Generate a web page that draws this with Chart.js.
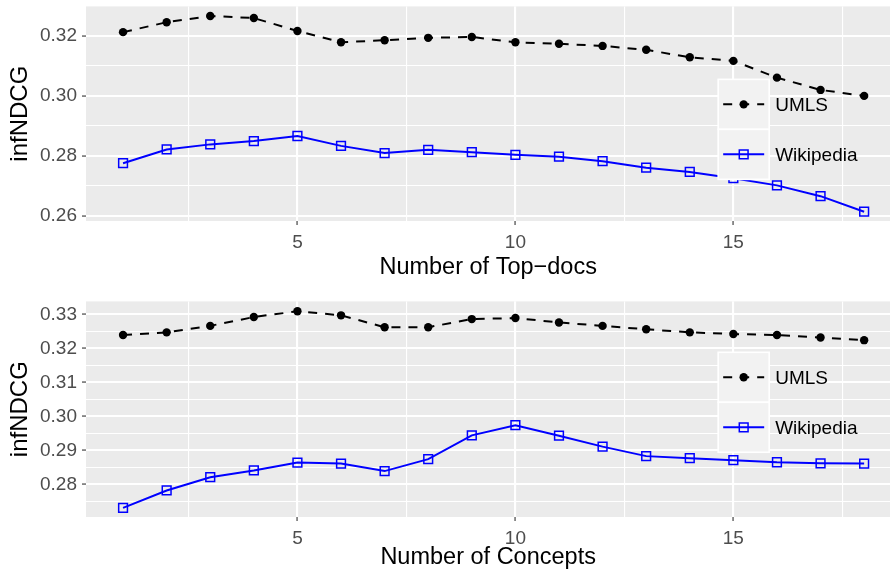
<!DOCTYPE html>
<html>
<head>
<meta charset="utf-8">
<script src="https://cdn.jsdelivr.net/npm/chart.js@4/dist/chart.umd.min.js"></script>
<style>
  html, body { margin: 0; padding: 0; background: #fff; overflow: hidden; }
  #wrap { position: relative; width: 890px; height: 573px; overflow: hidden; }
  .pane { position: absolute; left: 0; width: 898px; }
</style>
</head>
<body>
<div id="wrap">
  <div class="pane" style="top:-10px;height:295px"><canvas id="topChart"></canvas></div>
  <div class="pane" style="top:285px;height:288px"><canvas id="bottomChart"></canvas></div>
</div>
<script>
// valeurs
const xValues = [1, 2, 3, 4, 5, 6, 7, 8, 9, 10, 11, 12, 13, 14, 15, 16, 17, 18];

const topdocsUmls = [0.3213, 0.3246, 0.3267, 0.3260, 0.3217, 0.3179, 0.3186, 0.3194, 0.3197,
                     0.3179, 0.3174, 0.3167, 0.3154, 0.3129, 0.3117, 0.3061, 0.3020, 0.3000];
const topdocsWiki = [0.2775, 0.2821, 0.2838, 0.2849, 0.2866, 0.2833, 0.2809, 0.2820, 0.2812,
                     0.2803, 0.2797, 0.2782, 0.2760, 0.2746, 0.2725, 0.2701, 0.2665, 0.2613];

const conceptsUmls = [0.3239, 0.3247, 0.3266, 0.3292, 0.3309, 0.3297, 0.3262, 0.3262, 0.3286,
                      0.3289, 0.3276, 0.3266, 0.3256, 0.3247, 0.3242, 0.3239, 0.3232, 0.3224];
const conceptsWiki = [0.2731, 0.2782, 0.2821, 0.2841, 0.2864, 0.2861, 0.2839, 0.2874, 0.2944,
                      0.2974, 0.2943, 0.2911, 0.2883, 0.2877, 0.2871, 0.2865, 0.2862, 0.2861];

const seriesNames = ['UMLS', 'Wikipedia'];

// ticks : majeurs (avec étiquette) et mineurs (grille fine seulement)
const xMajorTicks = [5, 10, 15];
const xMinorTicks = [2.5, 7.5, 12.5, 17.5];
const topdocsYMajor = [0.26, 0.28, 0.30, 0.32];
const topdocsYMinor = [0.27, 0.29, 0.31];
const conceptsYMajor = [0.28, 0.29, 0.30, 0.31, 0.32, 0.33];
const conceptsYMinor = [0.275, 0.285, 0.295, 0.305, 0.315, 0.325];

Chart.defaults.font.family = '"Liberation Sans", Arial, Helvetica, sans-serif';
Chart.defaults.animation = false;

const isMajor = (list, v) => list.some(m => Math.abs(m - v) < 1e-9);

// fond gris du panneau (style ggplot)
const panelBackground = {
    id: 'panelBackground',
    beforeDraw(chart) {
        const a = chart.chartArea, ctx = chart.ctx;
        ctx.save();
        ctx.fillStyle = '#EBEBEB';
        ctx.fillRect(a.left, a.top, a.right - a.left, a.bottom - a.top);
        ctx.restore();
    }
};

// légende dessinée dans le panneau
const insideLegend = {
    id: 'insideLegend',
    afterDraw(chart, args, opts) {
        const a = chart.chartArea, ctx = chart.ctx;
        const left = a.left + opts.x * (a.right - a.left);
        const top = a.top + opts.y * (a.bottom - a.top);
        const kw = 51, kh = 50;
        ctx.save();
        chart.data.datasets.forEach((ds, i) => {
            const ky = top + i * kh;
            ctx.fillStyle = '#F2F2F2';
            ctx.fillRect(left, ky, kw, kh);
            ctx.strokeStyle = '#FFFFFF';
            ctx.lineWidth = 1.6;
            ctx.strokeRect(left, ky, kw, kh);
            const cy = ky + kh / 2;
            ctx.beginPath();
            ctx.setLineDash(ds.borderDash || []);
            ctx.strokeStyle = ds.borderColor;
            ctx.lineWidth = ds.borderWidth;
            ctx.moveTo(left + 5, cy);
            ctx.lineTo(left + kw - 5, cy);
            ctx.stroke();
            ctx.setLineDash([]);
            ctx.fillStyle = ds.pointBackgroundColor;
            ctx.strokeStyle = ds.pointBorderColor;
            ctx.lineWidth = ds.pointBorderWidth;
            ctx.beginPath();
            if (ds.pointStyle === 'circle') {
                ctx.arc(left + kw / 2, cy, ds.pointRadius, 0, Math.PI * 2);
                ctx.fill();
            } else {
                const s = Math.SQRT1_2 * ds.pointRadius;
                ctx.rect(left + kw / 2 - s, cy - s, 2 * s, 2 * s);
                ctx.stroke();
            }
            ctx.fillStyle = '#000000';
            ctx.font = '19px "Liberation Sans", Arial, sans-serif';
            ctx.textAlign = 'left';
            ctx.textBaseline = 'middle';
            ctx.fillText(ds.label, left + kw + 6, cy + 1);
        });
        ctx.restore();
    }
};

function toPoints(values) {
    return xValues.map((x, i) => ({ x: x, y: values[i] }));
}

function makeChart(canvasId, umls, wiki, cfg) {
    const ctx = document.getElementById(canvasId).getContext('2d');
    return new Chart(ctx, {
        type: 'line',
        data: {
            datasets: [{
                label: seriesNames[0],
                data: toPoints(umls),
                borderColor: '#000000',
                borderWidth: 2,
                borderDash: [9, 8],
                pointStyle: 'circle',
                pointRadius: 4.2,
                pointBorderWidth: 0,
                pointBackgroundColor: '#000000',
                pointBorderColor: '#000000',
                tension: 0
            }, {
                label: seriesNames[1],
                data: toPoints(wiki),
                borderColor: '#0000FF',
                borderWidth: 2,
                pointStyle: 'rect',
                pointRadius: 6.2,
                pointBorderWidth: 1.5,
                pointBackgroundColor: 'rgba(0,0,0,0)',
                pointBorderColor: '#0000FF',
                tension: 0
            }]
        },
        options: {
            responsive: true,
            maintainAspectRatio: false,
            layout: { padding: { top: cfg.padTop, right: 0, left: 0, bottom: 0 } },
            plugins: {
                legend: { display: false },
                tooltip: { enabled: false },
                insideLegend: { x: 0.786, y: cfg.legendY }
            },
            scales: {
                x: {
                    type: 'linear',
                    min: 0.15,
                    max: 18.6,
                    afterFit: s => { s.height = cfg.xAxisHeight; },
                    afterBuildTicks: s => {
                        s.ticks = xMinorTicks.concat(xMajorTicks).sort((a, b) => a - b).map(v => ({ value: v }));
                    },
                    border: { display: false },
                    grid: {
                        color: '#FFFFFF',
                        lineWidth: c => isMajor(xMajorTicks, c.tick.value) ? 2.1 : 1.1,
                        tickColor: c => isMajor(xMajorTicks, c.tick.value) ? '#333333' : 'rgba(0,0,0,0)',
                        tickLength: 4,
                        tickWidth: 1.1
                    },
                    ticks: {
                        autoSkip: false,
                        maxRotation: 0,
                        padding: 6,
                        color: '#4D4D4D',
                        font: { size: 19 },
                        callback: v => isMajor(xMajorTicks, v) ? String(v) : ''
                    },
                    title: {
                        display: true,
                        text: cfg.xTitle,
                        color: '#000000',
                        font: { size: 23.5 },
                        padding: { top: 0, bottom: cfg.xTitlePad }
                    }
                },
                y: {
                    min: cfg.yMin,
                    max: cfg.yMax,
                    afterFit: s => { s.width = 86; },
                    afterBuildTicks: s => {
                        s.ticks = cfg.yMinor.concat(cfg.yMajor).sort((a, b) => a - b).map(v => ({ value: v }));
                    },
                    border: { display: false },
                    grid: {
                        color: '#FFFFFF',
                        lineWidth: c => isMajor(cfg.yMajor, c.tick.value) ? 2.1 : 1.1,
                        tickColor: c => isMajor(cfg.yMajor, c.tick.value) ? '#333333' : 'rgba(0,0,0,0)',
                        tickLength: 4,
                        tickWidth: 1.1
                    },
                    ticks: {
                        autoSkip: false,
                        padding: 5,
                        color: '#4D4D4D',
                        font: { size: 19 },
                        callback: v => isMajor(cfg.yMajor, v) ? v.toFixed(2) : ''
                    },
                    title: {
                        display: true,
                        text: 'infNDCG',
                        color: '#000000',
                        font: { size: 24 },
                        padding: { top: 6, bottom: 0 }
                    }
                }
            }
        },
        plugins: [panelBackground, insideLegend]
    });
}

makeChart('topChart', topdocsUmls, topdocsWiki, {
    padTop: 16, xAxisHeight: 64, xTitle: 'Number of Top\u2212docs', xTitlePad: 3,
    yMin: 0.2582, yMax: 0.3299, yMajor: topdocsYMajor, yMinor: topdocsYMinor, legendY: 0.34
});

makeChart('bottomChart', conceptsUmls, conceptsWiki, {
    padTop: 16, xAxisHeight: 56, xTitle: 'Number of Concepts', xTitlePad: 1,
    yMin: 0.2704, yMax: 0.3338, yMajor: conceptsYMajor, yMinor: conceptsYMinor, legendY: 0.236
});
</script>
</body>
</html>
